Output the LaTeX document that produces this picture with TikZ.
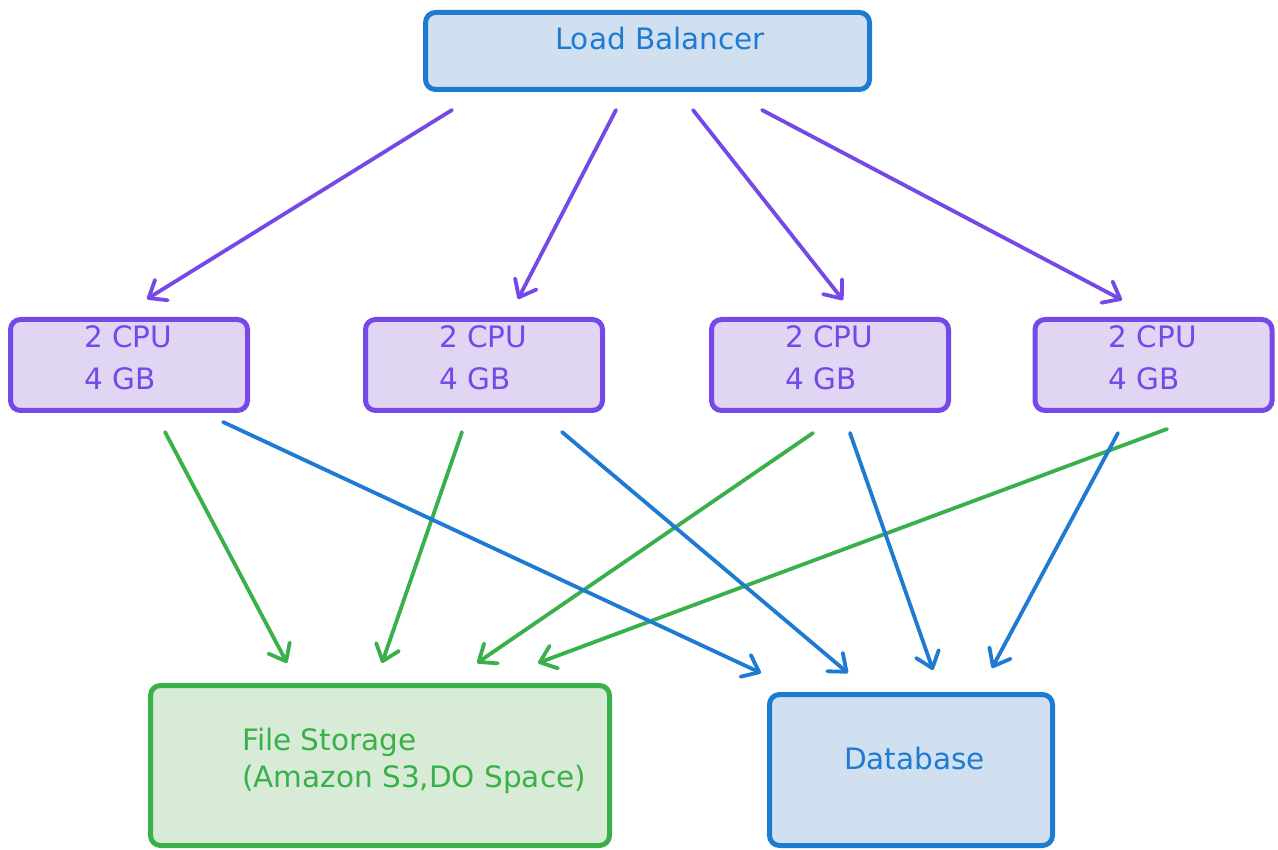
\documentclass[tikz,border=0pt]{standalone}
\usepackage{fontspec}
\setmainfont{DejaVu Sans}
\usetikzlibrary{arrows.meta,calc}

\definecolor{lbblue}{HTML}{1F7BD2}
\definecolor{lbfill}{HTML}{D0E0F0}
\definecolor{srvpurple}{HTML}{7449E8}
\definecolor{srvfill}{HTML}{E0D6F4}
\definecolor{stgreen}{HTML}{3AB04A}
\definecolor{stfill}{HTML}{D8EBD7}

\tikzset{
  box/.style={draw, line width=5pt, rounded corners=10pt, inner sep=0pt},
  lbbox/.style={box, draw=lbblue, fill=lbfill},
  srvbox/.style={box, draw=srvpurple, fill=srvfill, minimum width=237pt, minimum height=91pt},
  stbox/.style={box, draw=stgreen, fill=stfill},
  txt/.style={inner sep=0pt, font=\fontsize{29.5}{34}\selectfont},
  arr/.style={line width=3.8pt, line cap=round, line join=round,
              -{Straight Barb[length=15pt, width=24pt, line cap=round, line join=round]}},
  toserver/.style={arr, draw=srvpurple},
  tostore/.style={arr, draw=stgreen},
  todb/.style={arr, draw=lbblue},
}

\begin{document}
\begin{tikzpicture}[x=1pt, y=-1pt]
  \useasboundingbox (0,0) rectangle (1278,850);

  % boxes
  \node[lbbox, minimum width=444pt, minimum height=77pt] (lb) at (647.5,51) {};
  \node[srvbox] (s1) at (129,365) {};
  \node[srvbox] (s2) at (484,365) {};
  \node[srvbox] (s3) at (830,365) {};
  \node[srvbox] (s4) at (1153.5,365) {};
  \node[stbox, minimum width=459pt, minimum height=160pt] (fs) at (380,765.5) {};
  \node[lbbox, minimum width=283pt, minimum height=151pt] (db) at (911,770) {};

  % labels
  \node[txt, text=lbblue, anchor=base] (lbt) at ($(lb.center)+(12.5,-1)$) {Load Balancer};
  \foreach \s in {s1,s2,s3,s4}{
    \node[txt, text=srvpurple, anchor=base west] (\s a) at ($(\s.center)+(-45,-17)$) {2 CPU};
    \node[txt, text=srvpurple, anchor=base west] (\s b) at ($(\s.center)+(-45,25)$) {4 GB};
  }
  \node[txt, text=stgreen, anchor=base west] (fsa) at ($(fs.center)+(-138,-15.5)$) {File Storage};
  \node[txt, text=stgreen, anchor=base west] (fsb) at ($(fs.center)+(-138,22)$) {(Amazon S3,DO Space)};
  \node[txt, text=lbblue, anchor=base] (dbt) at ($(db.center)+(3.5,-1)$) {Database};

  % load balancer to servers
  \draw[toserver] ($(lb.center)+(-195.5,59)$) -- ($(s1.center)+(18,-66)$);
  \draw[toserver] ($(lb.center)+(-31.5,59)$) -- ($(s2.center)+(34,-66)$);
  \draw[toserver] ($(lb.center)+(45.5,59)$) -- ($(s3.center)+(13,-65)$);
  \draw[toserver] ($(lb.center)+(114.5,59)$) -- ($(s4.center)+(-31.5,-65)$);

  % servers to file storage
  \draw[tostore] ($(s1.center)+(36,67)$) -- ($(fs.center)+(-93,-102.5)$);
  \draw[tostore] ($(s2.center)+(-22,67)$) -- ($(fs.center)+(2,-102.5)$);
  \draw[tostore] ($(s3.center)+(-17,68)$) -- ($(fs.center)+(97,-102.5)$);
  \draw[tostore] ($(s4.center)+(13.5,64)$) -- ($(fs.center)+(158,-102.5)$);

  % servers to database
  \draw[todb] ($(s1.center)+(94,57)$) -- ($(db.center)+(-150,-97)$);
  \draw[todb] ($(s2.center)+(78,67)$) -- ($(db.center)+(-63,-97)$);
  \draw[todb] ($(s3.center)+(20,68)$) -- ($(db.center)+(22,-100)$);
  \draw[todb] ($(s4.center)+(-35.5,68)$) -- ($(db.center)+(81,-102)$);
\end{tikzpicture}
\end{document}
